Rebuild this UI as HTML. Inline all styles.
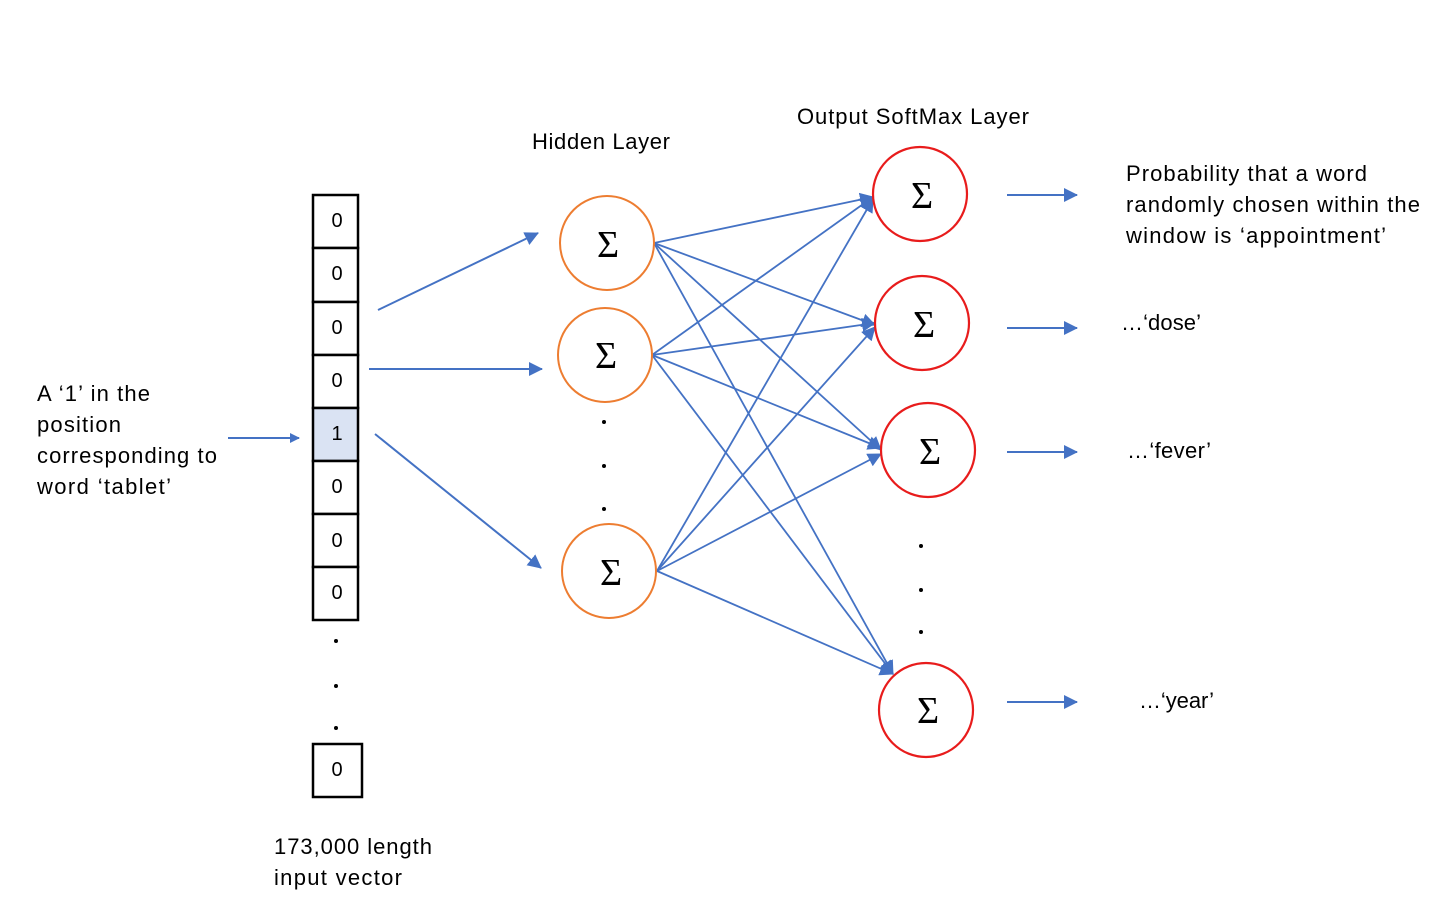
<!DOCTYPE html>
<html><head><meta charset="utf-8"><style>
html,body{margin:0;padding:0;background:#fff}
svg{display:block}
text{font-family:"Liberation Sans",sans-serif;fill:#000}
.s{font-family:"Liberation Serif",serif;font-size:38px}
.t{font-size:22px}
.n{font-size:20px}
</style></head><body>
<svg width="1456" height="914" viewBox="0 0 1456 914" xmlns="http://www.w3.org/2000/svg">
<defs>
<marker id="a" markerWidth="10" markerHeight="10" refX="9" refY="5" orient="auto" markerUnits="userSpaceOnUse" viewBox="0 0 10 10">
<path d="M0,0 L10,5 L0,10 z" fill="#4472c4"/>
</marker>
<marker id="b" markerWidth="14" markerHeight="14" refX="13" refY="7" orient="auto" markerUnits="userSpaceOnUse" viewBox="0 0 14 14">
<path d="M0,0 L14,7 L0,14 z" fill="#4472c4"/>
</marker>
</defs>
<!-- input vector -->
<g stroke="#000" stroke-width="2.5" fill="#fff">
<rect x="313" y="195" width="45" height="53"/>
<rect x="313" y="248" width="45" height="54"/>
<rect x="313" y="302" width="45" height="53"/>
<rect x="313" y="355" width="45" height="53"/>
<rect x="313" y="408" width="45" height="53" fill="#dae3f3"/>
<rect x="313" y="461" width="45" height="53"/>
<rect x="313" y="514" width="45" height="53"/>
<rect x="313" y="567" width="45" height="53"/>
<rect x="313" y="744" width="49" height="53"/>
</g>
<g class="n" text-anchor="middle">
<text x="337" y="227" class="n">0</text>
<text x="337" y="280" class="n">0</text>
<text x="337" y="334" class="n">0</text>
<text x="337" y="387" class="n">0</text>
<text x="337" y="440" class="n">1</text>
<text x="337" y="493" class="n">0</text>
<text x="337" y="547" class="n">0</text>
<text x="337" y="599" class="n">0</text>
<text x="337" y="776" class="n">0</text>
</g>
<g fill="#000">
<circle cx="336" cy="641" r="2"/><circle cx="336" cy="686" r="2"/><circle cx="336" cy="728" r="2"/>
<circle cx="604" cy="422" r="2"/><circle cx="604" cy="466" r="2"/><circle cx="604" cy="509" r="2"/>
<circle cx="921" cy="546" r="2"/><circle cx="921" cy="590" r="2"/><circle cx="921" cy="632" r="2"/>
</g>
<!-- arrows -->
<g stroke="#4472c4" stroke-width="2" fill="none">
<line x1="228" y1="438" x2="299" y2="438" marker-end="url(#a)"/>
<line x1="378" y1="310" x2="538" y2="233" marker-end="url(#b)"/>
<line x1="369" y1="369" x2="542" y2="369" marker-end="url(#b)"/>
<line x1="375" y1="434" x2="541" y2="568" marker-end="url(#b)"/>
<line x1="1007" y1="195" x2="1077" y2="195" marker-end="url(#b)"/>
<line x1="1007" y1="328" x2="1077" y2="328" marker-end="url(#b)"/>
<line x1="1007" y1="452" x2="1077" y2="452" marker-end="url(#b)"/>
<line x1="1007" y1="702" x2="1077" y2="702" marker-end="url(#b)"/>
</g>
<g stroke="#4472c4" stroke-width="1.8" fill="none">
<line x1="654" y1="243" x2="873" y2="197" marker-end="url(#b)"/>
<line x1="654" y1="243" x2="875" y2="325" marker-end="url(#b)"/>
<line x1="654" y1="243" x2="881" y2="450" marker-end="url(#b)"/>
<line x1="654" y1="243" x2="893" y2="674" marker-end="url(#b)"/>
<line x1="652" y1="355" x2="873" y2="197" marker-end="url(#b)"/>
<line x1="652" y1="355" x2="875" y2="323" marker-end="url(#b)"/>
<line x1="652" y1="355" x2="881" y2="448" marker-end="url(#b)"/>
<line x1="652" y1="355" x2="893" y2="674" marker-end="url(#b)"/>
<line x1="657" y1="571" x2="873" y2="199" marker-end="url(#b)"/>
<line x1="657" y1="571" x2="875" y2="327" marker-end="url(#b)"/>
<line x1="657" y1="571" x2="881" y2="454" marker-end="url(#b)"/>
<line x1="657" y1="571" x2="893" y2="674" marker-end="url(#b)"/>
</g>
<!-- nodes -->
<g fill="#fff" stroke="#ed7d31" stroke-width="2">
<circle cx="607" cy="243" r="47"/><circle cx="605" cy="355" r="47"/><circle cx="609" cy="571" r="47"/>
</g>
<g fill="#fff" stroke="#e81c1c" stroke-width="2.2">
<circle cx="920" cy="194" r="47"/><circle cx="922" cy="323" r="47"/><circle cx="928" cy="450" r="47"/><circle cx="926" cy="710" r="47"/>
</g>
<g text-anchor="middle">
<text class="s" x="608" y="257">Σ</text>
<text class="s" x="606" y="368">Σ</text>
<text class="s" x="611" y="585">Σ</text>
<text class="s" x="922" y="208">Σ</text>
<text class="s" x="924" y="337">Σ</text>
<text class="s" x="930" y="464">Σ</text>
<text class="s" x="928" y="723">Σ</text>
</g>
<!-- labels -->
<text class="t" x="532" y="149" textLength="138">Hidden Layer</text>
<text class="t" x="797" y="124" textLength="232">Output SoftMax Layer</text>
<text class="t" x="37" y="401" textLength="113">A ‘1’ in the</text>
<text class="t" x="37" y="432" textLength="84">position</text>
<text class="t" x="37" y="463" textLength="180">corresponding to</text>
<text class="t" x="37" y="494" textLength="134">word ‘tablet’</text>
<text class="t" x="274" y="854" textLength="158">173,000 length</text>
<text class="t" x="274" y="885" textLength="128">input vector</text>
<text class="t" x="1126" y="181" textLength="241">Probability that a word</text>
<text class="t" x="1126" y="212" textLength="294">randomly chosen within the</text>
<text class="t" x="1126" y="243" textLength="260">window is ‘appointment’</text>
<text class="t" x="1121" y="330" textLength="80">…‘dose’</text>
<text class="t" x="1127" y="458" textLength="84">…‘fever’</text>
<text class="t" x="1139" y="708" textLength="75">…‘year’</text>
</svg>
</body></html>
